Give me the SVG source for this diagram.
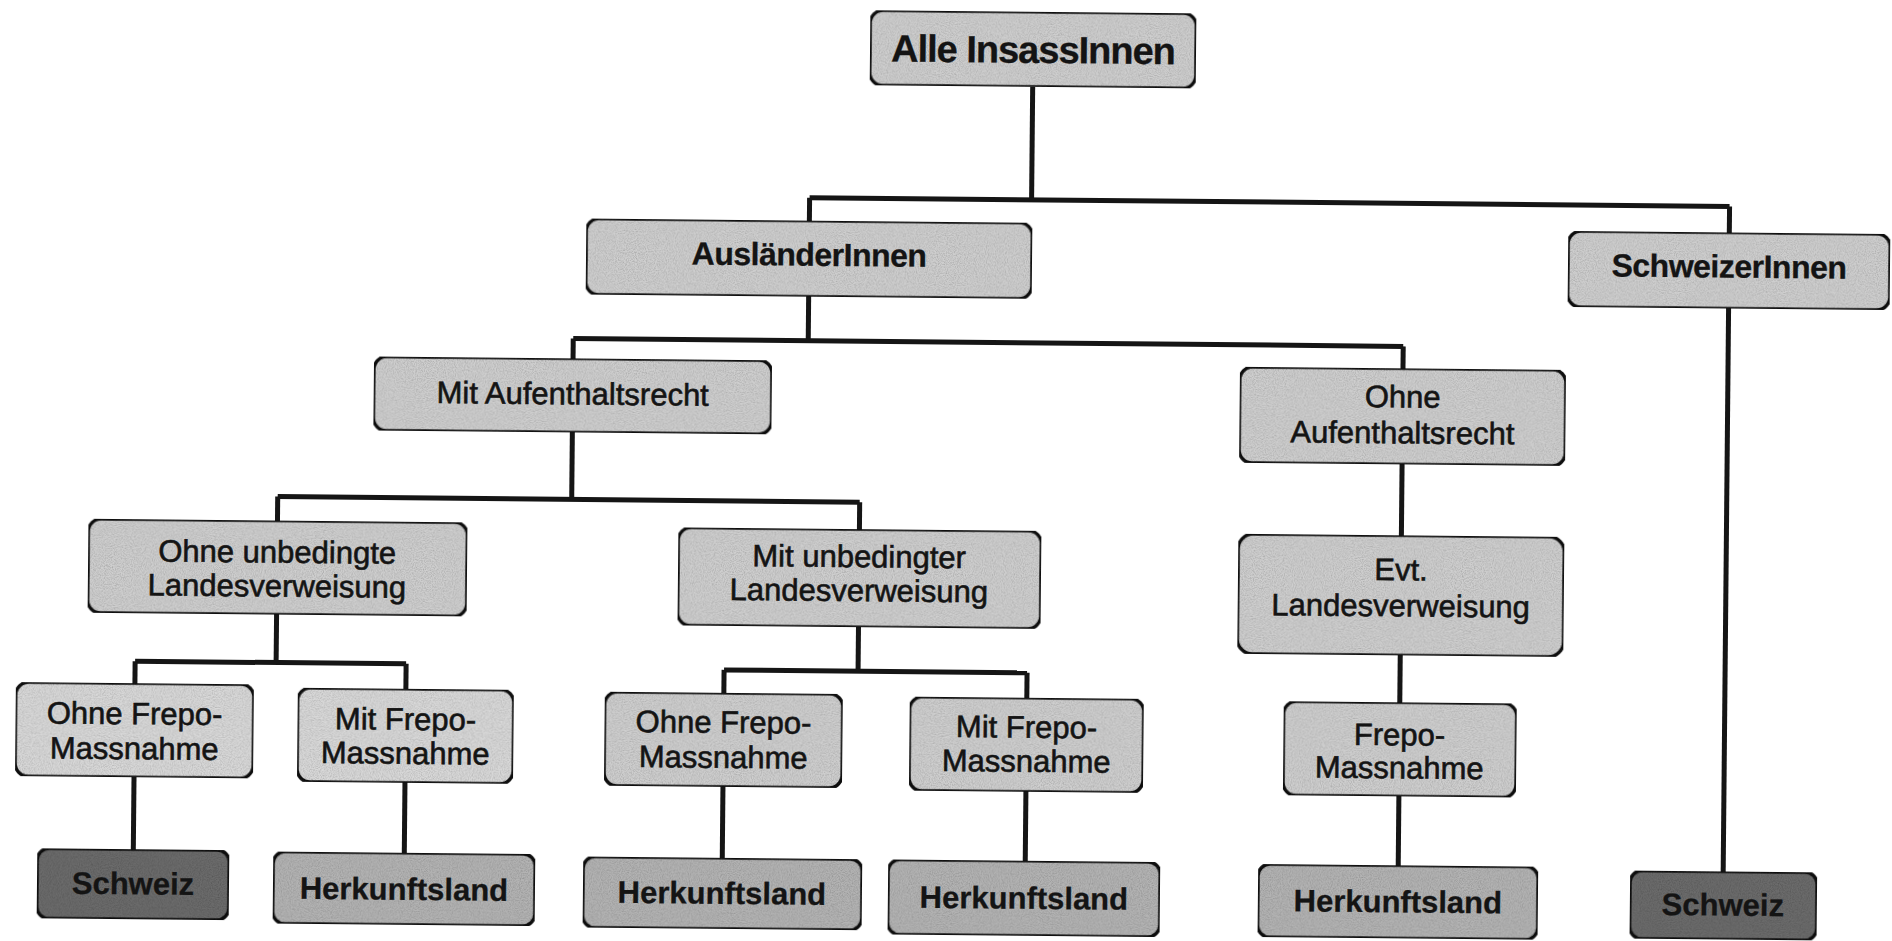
<svg xmlns="http://www.w3.org/2000/svg" width="1892" height="941" viewBox="0 0 1892 941">
  <style>
    .box { stroke: #151515; stroke-width: 3.5; }
    .c1 { fill: #cfcfcf; }
    .c2 { fill: #d9d9d9; }
    .c3 { fill: #b4b4b4; }
    .c4 { fill: #6c6c6c; }
    .conn { fill: none; stroke: #151515; stroke-width: 5; }
    .t { font-family: "Liberation Sans", Arial, Helvetica, sans-serif; font-size: 31px; text-anchor: middle; fill: #141414; stroke: #141414; stroke-width: 0.6; }
    .b { font-weight: bold; stroke-width: 0.3; }
    .big { font-size: 38px; letter-spacing: -1px; }
    .mid { font-size: 32px; letter-spacing: -0.5px; }
  </style>
  <defs>
    <filter id="grain" x="0" y="0" width="100%" height="100%">
      <feTurbulence type="fractalNoise" baseFrequency="0.9" numOctaves="2" seed="3" result="n"/>
      <feColorMatrix in="n" type="matrix" values="0 0 0 0 0  0 0 0 0 0  0 0 0 0 0  0 0 0 0.7 -0.25" result="dots"/>
      <feComposite in="dots" in2="SourceGraphic" operator="in" result="d2"/>
      <feMerge><feMergeNode in="SourceGraphic"/><feMergeNode in="d2"/></feMerge>
    </filter>
  </defs>
  <rect x="0" y="0" width="1892" height="941" fill="#ffffff"/>
  <g transform="rotate(0.55 946 470)">
    <g id="connectors" class="conn">
      <path d="M1029 86 V199"/>
      <path d="M807 199 H1727"/>
      <path d="M807 199 V224"/>
      <path d="M1727 199 V226"/>
      <path d="M807 297 V342"/>
      <path d="M572 342 H1402"/>
      <path d="M572 342 V363"/>
      <path d="M1402 342 V365"/>
      <path d="M572 435 V503"/>
      <path d="M278 503 H860"/>
      <path d="M278 503 V528"/>
      <path d="M860 503 V531"/>
      <path d="M278 620 V669"/>
      <path d="M137 669 H408"/>
      <path d="M137 669 V692"/>
      <path d="M408 669 V695"/>
      <path d="M860 627 V672"/>
      <path d="M726 672 H1029"/>
      <path d="M726 672 V696"/>
      <path d="M1029 672 V698"/>
      <path d="M1402 459 V532"/>
      <path d="M1402 650 V699"/>
      <path d="M1402 791 V862"/>
      <path d="M1727 300 V865"/>
      <path d="M137 784 V858"/>
      <path d="M408 787 V860"/>
      <path d="M726 788 V861"/>
      <path d="M1029 790 V861"/>
    </g>

    <g id="n-alle">
      <rect class="box c1" filter="url(#grain)" x="866" y="11" width="326" height="75" rx="13"/>
      <text class="t b big" x="1029" y="62">Alle InsassInnen</text>
    </g>
    <g id="n-auslaender">
      <rect class="box c1" filter="url(#grain)" x="584" y="222" width="446" height="76" rx="13"/>
      <text class="t b mid" x="807" y="267">AusländerInnen</text>
    </g>
    <g id="n-schweizer">
      <rect class="box c1" filter="url(#grain)" x="1566" y="225" width="322" height="76" rx="13"/>
      <text class="t b mid" x="1727" y="270">SchweizerInnen</text>
    </g>
    <g id="n-mit-aufenthalt">
      <rect class="box c1" filter="url(#grain)" x="373" y="362" width="398" height="74" rx="13"/>
      <text class="t" x="572" y="408">Mit Aufenthaltsrecht</text>
    </g>
    <g id="n-ohne-aufenthalt">
      <rect class="box c1" filter="url(#grain)" x="1239" y="364" width="326" height="96" rx="13"/>
      <text class="t" x="1402" y="403">Ohne</text>
      <text class="t" x="1402" y="439">Aufenthaltsrecht</text>
    </g>
    <g id="n-ohne-unbedingte">
      <rect class="box c1" filter="url(#grain)" x="89" y="527" width="379" height="94" rx="13"/>
      <text class="t" x="278" y="569">Ohne unbedingte</text>
      <text class="t" x="278" y="603">Landesverweisung</text>
    </g>
    <g id="n-mit-unbedingter">
      <rect class="box c1" filter="url(#grain)" x="679" y="530" width="363" height="98" rx="13"/>
      <text class="t" x="860" y="568">Mit unbedingter</text>
      <text class="t" x="860" y="602">Landesverweisung</text>
    </g>
    <g id="n-evt">
      <rect class="box c1" filter="url(#grain)" x="1239" y="531" width="326" height="120" rx="15"/>
      <text class="t" x="1402" y="576">Evt.</text>
      <text class="t" x="1402" y="612">Landesverweisung</text>
    </g>
    <g id="n-ohne-frepo-1">
      <rect class="box c2" filter="url(#grain)" x="18" y="691" width="238" height="94" rx="13"/>
      <text class="t" x="137" y="732">Ohne Frepo-</text>
      <text class="t" x="137" y="767">Massnahme</text>
    </g>
    <g id="n-mit-frepo-1">
      <rect class="box c2" filter="url(#grain)" x="300" y="694" width="216" height="94" rx="13"/>
      <text class="t" x="408" y="735">Mit Frepo-</text>
      <text class="t" x="408" y="769">Massnahme</text>
    </g>
    <g id="n-ohne-frepo-2">
      <rect class="box c1" filter="url(#grain)" x="607" y="695" width="238" height="94" rx="13"/>
      <text class="t" x="726" y="735">Ohne Frepo-</text>
      <text class="t" x="726" y="770">Massnahme</text>
    </g>
    <g id="n-mit-frepo-2">
      <rect class="box c1" filter="url(#grain)" x="912" y="697" width="234" height="94" rx="13"/>
      <text class="t" x="1029" y="737">Mit Frepo-</text>
      <text class="t" x="1029" y="771">Massnahme</text>
    </g>
    <g id="n-frepo-3">
      <rect class="box c1" filter="url(#grain)" x="1286" y="698" width="233" height="94" rx="13"/>
      <text class="t" x="1402" y="741">Frepo-</text>
      <text class="t" x="1402" y="774">Massnahme</text>
    </g>
    <g id="n-schweiz-1">
      <rect class="box c4" filter="url(#grain)" x="41" y="857" width="192" height="70" rx="12"/>
      <text class="t b" x="137" y="902">Schweiz</text>
    </g>
    <g id="n-herkunft-1">
      <rect class="box c3" filter="url(#grain)" x="277" y="858" width="262" height="72" rx="12"/>
      <text class="t b" x="408" y="905">Herkunftsland</text>
    </g>
    <g id="n-herkunft-2">
      <rect class="box c3" filter="url(#grain)" x="587" y="860" width="279" height="71" rx="12"/>
      <text class="t b" x="726" y="906">Herkunftsland</text>
    </g>
    <g id="n-herkunft-3">
      <rect class="box c3" filter="url(#grain)" x="892" y="860" width="272" height="75" rx="12"/>
      <text class="t b" x="1028" y="908">Herkunftsland</text>
    </g>
    <g id="n-herkunft-4">
      <rect class="box c3" filter="url(#grain)" x="1262" y="861" width="280" height="73" rx="12"/>
      <text class="t b" x="1402" y="908">Herkunftsland</text>
    </g>
    <g id="n-schweiz-2">
      <rect class="box c4" filter="url(#grain)" x="1634" y="864" width="187" height="68" rx="12"/>
      <text class="t b" x="1727" y="908">Schweiz</text>
    </g>
  </g>
</svg>
